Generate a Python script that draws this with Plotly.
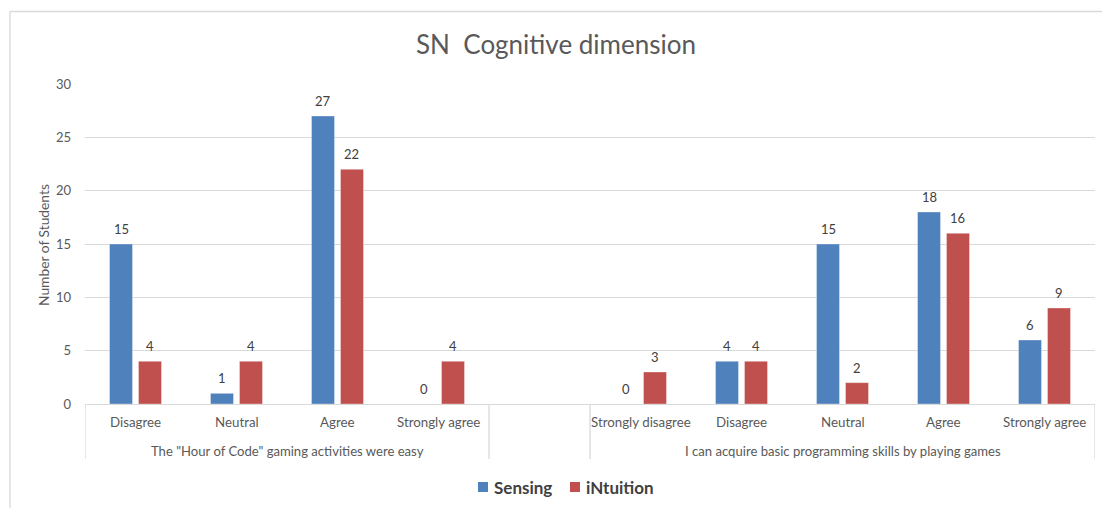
import plotly.graph_objects as go

# Survey responses, two statements, grouped by learning-style preference
group_labels = [
    'The "Hour of Code" gaming activities were easy',
    "I can acquire basic programming skills by playing games",
]
cats_easy = ["Disagree", "Neutral", "Agree", "Strongly agree"]
cats_skills = ["Strongly disagree", "Disagree", "Neutral", "Agree", "Strongly agree"]

sensing_easy = [15, 1, 27, 0]
intuition_easy = [4, 4, 22, 4]
sensing_skills = [0, 4, 15, 18, 6]
intuition_skills = [3, 4, 2, 16, 9]

y_ticks = [0, 5, 10, 15, 20, 25, 30]

BLUE = "#4F81BD"
RED = "#C0504D"
GRID = "#D9D9D9"
TXT = "#595959"
LBL = "#404040"
FONT = "Lato"

# Category slots: first statement, one empty slot, then second statement
pos_easy = list(range(len(cats_easy)))
pos_skills = [len(cats_easy) + 1 + i for i in range(len(cats_skills))]
x_pos = pos_easy + pos_skills
n_slots = len(cats_easy) + 1 + len(cats_skills)

series = [
    ("Sensing", sensing_easy + sensing_skills, BLUE),
    ("iNtuition", intuition_easy + intuition_skills, RED),
]

BARGAP = 0.426
GROUPGAP = 0.206
slot = (1 - BARGAP) / len(series)

W, H = 1102, 508
L, R, T, B = 85, 7, 84, 104
plot_h = H - T - B
plot_w = W - L - R


def py(pix_y):
    # pixel row -> paper y
    return (H - B - pix_y) / plot_h


def px(pix_x):
    # pixel column -> paper x
    return (pix_x - L) / plot_w


fig = go.Figure()
annotations = []
for k, (name, vals, col) in enumerate(series):
    fig.add_trace(go.Bar(
        x=x_pos, y=vals, name=name,
        marker=dict(color=col, line=dict(color="rgba(255,255,255,0.35)", width=1)),
        showlegend=False,
    ))
    # value labels above each bar
    off = (k - (len(series) - 1) / 2) * slot
    for p, v in zip(x_pos, vals):
        annotations.append(dict(x=p + off, y=v, xref="x", yref="y", text=str(v),
                                showarrow=False, yanchor="middle", yshift=15,
                                font=dict(family=FONT, size=13, color=LBL)))

# category labels
for c, p in zip(cats_easy + cats_skills, x_pos):
    annotations.append(dict(x=p, y=py(422), xref="x", yref="paper", text=c,
                            showarrow=False, yanchor="middle",
                            font=dict(family=FONT, size=13.3, color=TXT)))
# group labels
for lbl, grp in zip(group_labels, [pos_easy, pos_skills]):
    annotations.append(dict(x=(grp[0] + grp[-1]) / 2, y=py(451), xref="x", yref="paper",
                            text=lbl, showarrow=False, yanchor="middle",
                            font=dict(family=FONT, size=13.1, color=TXT)))
# y-axis title
annotations.append(dict(x=px(43), y=py(245), xref="paper", yref="paper", text="Number of Students",
                        textangle=-90, showarrow=False, xanchor="center", yanchor="middle",
                        font=dict(family=FONT, size=13.8, color=TXT)))

shapes = []
# group dividers below the axis
for xd in [pos_easy[0] - 0.5, pos_easy[-1] + 0.5, pos_skills[0] - 0.5, pos_skills[-1] + 0.5]:
    shapes.append(dict(type="line", xref="x", yref="paper", x0=xd, x1=xd,
                       y0=0, y1=py(459), line=dict(color=GRID, width=1.3)))
# chart frame (top and left edges)
shapes.append(dict(type="line", xref="paper", yref="paper", x0=px(10), x1=px(10),
                   y0=py(520), y1=py(11.5), line=dict(color=GRID, width=1.3)))
shapes.append(dict(type="line", xref="paper", yref="paper", x0=px(10), x1=px(1110),
                   y0=py(11.5), y1=py(11.5), line=dict(color=GRID, width=1.3)))

# legend: swatch + bold series name
legend_x = [478, 570]
for (name, vals, col), lx in zip(series, legend_x):
    shapes.append(dict(type="rect", xref="paper", yref="paper",
                       x0=px(lx), x1=px(lx + 10), y0=py(492), y1=py(482),
                       fillcolor=col, line=dict(width=0)))
    annotations.append(dict(x=px(lx + 14), y=py(487), xref="paper", yref="paper",
                            text=f"<b>{name}</b>", showarrow=False,
                            xanchor="left", yanchor="middle",
                            font=dict(family=FONT, size=17, color=LBL)))

fig.update_layout(
    width=W, height=H,
    margin=dict(l=L, r=R, t=T, b=B, autoexpand=False),
    paper_bgcolor="white", plot_bgcolor="white",
    barmode="group", bargap=BARGAP, bargroupgap=GROUPGAP,
    title=dict(text="SN\u00a0\u00a0Cognitive dimension", x=556 / W, xref="container",
               y=1 - 45 / H, yref="container", xanchor="center", yanchor="middle",
               font=dict(family=FONT, size=26, color=TXT)),
    xaxis=dict(range=[-0.5, n_slots - 0.5], showticklabels=False, showgrid=False,
               zeroline=False, showline=True, linecolor=GRID, linewidth=1.3, ticks=""),
    yaxis=dict(range=[0, 30], tickvals=y_ticks, showgrid=True, gridcolor=GRID, gridwidth=1.3,
               zeroline=False, showline=False, ticks="", ticklabelstandoff=13,
               tickfont=dict(family=FONT, size=13, color=TXT)),
    annotations=annotations, shapes=shapes,
    showlegend=False,
)

fig.write_html("out.html")
